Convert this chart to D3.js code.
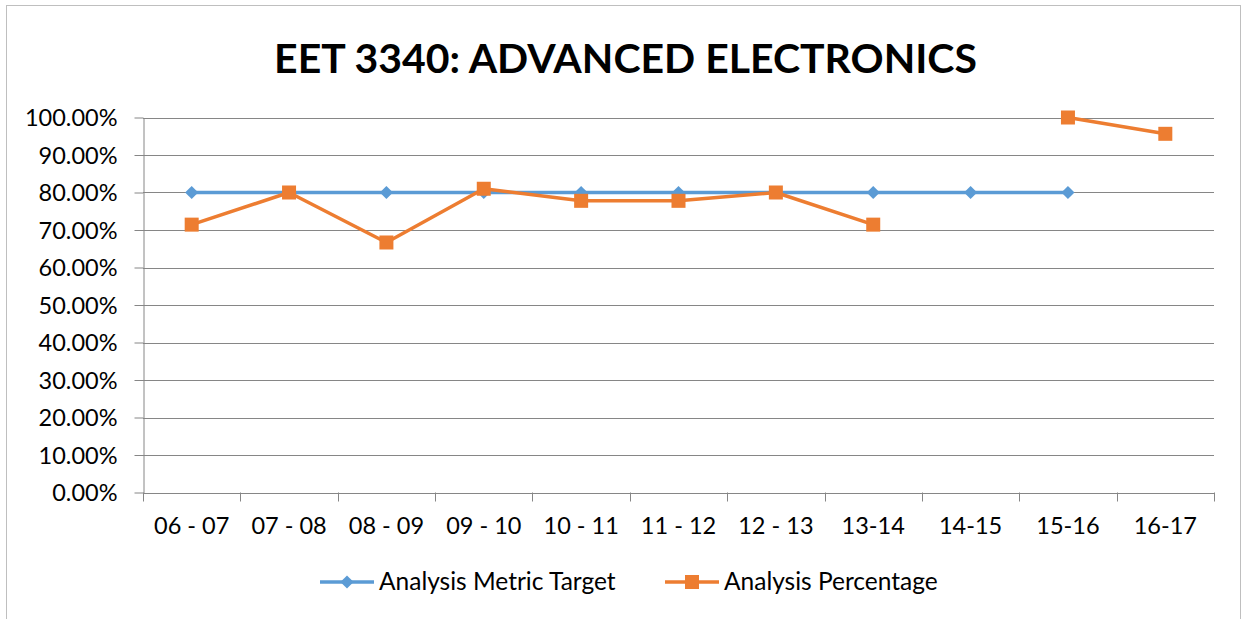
<!DOCTYPE html>
<html><head><meta charset="utf-8">
<script src="https://cdn.jsdelivr.net/npm/d3@7"></script>
<style>body{margin:0;background:#fff}svg{display:block}text{font-family:Lato,"Open Sans",sans-serif;fill:#000}</style>
</head><body><svg id="c" width="1244" height="619"></svg>
<script>
const title = "EET 3340: ADVANCED ELECTRONICS";
const categories = ["06 - 07","07 - 08","08 - 09","09 - 10","10 - 11","11 - 12","12 - 13","13-14","14-15","15-16","16-17"];
const targetValues = [0.80,0.80,0.80,0.80,0.80,0.80,0.80,0.80,0.80,0.80,null];
const percentageValues = [0.7143,0.80,0.6667,0.8100,0.7778,0.7778,0.80,0.7143,null,1.00,0.9565];
const yTicks = [0,0.1,0.2,0.3,0.4,0.5,0.6,0.7,0.8,0.9,1.0];
const seriesNames = ["Analysis Metric Target","Analysis Percentage"];

const svg = d3.select("#c");
svg.append("rect").attr("x",6.5).attr("y",5.5).attr("width",1234).attr("height",620).attr("fill","#fff").attr("stroke","#BFBFBF").attr("stroke-width",1);

const L=143, R=1214, T=117.5, B=492.5;
const x = d3.scaleBand().domain(categories).range([L,R]);
const y = d3.scaleLinear().domain([0,1]).range([B,T]);

// gridlines
svg.append("g").selectAll("line").data(yTicks.filter(d=>d>0)).join("line")
  .attr("x1",L).attr("x2",R).attr("y1",d=>Math.round(y(d))+0.5).attr("y2",d=>Math.round(y(d))+0.5)
  .attr("stroke","#868686").attr("stroke-width",1);

const LABEL_FS = 23.5;
// y axis
const ya = svg.append("g").attr("transform",`translate(${L+0.5},0)`)
  .call(d3.axisLeft(y).tickValues(yTicks).tickFormat(d3.format(".2%")).tickSizeInner(9).tickSizeOuter(0).tickPadding(17));
ya.select(".domain").attr("stroke","#868686");
ya.selectAll(".tick line").attr("stroke","#868686");
ya.selectAll("text").attr("font-size",LABEL_FS).attr("font-family","Lato").attr("fill","#000").attr("dy","0.36em");

// x axis
const xa = svg.append("g").attr("transform",`translate(0,${B+0.5})`)
  .call(d3.axisBottom(x).tickSize(0).tickPadding(24));
xa.select(".domain").attr("stroke","#868686");
xa.selectAll("text").attr("font-size",LABEL_FS).attr("font-family","Lato").attr("fill","#000");
// category boundary ticks
const bounds = categories.map(c=>x(c)).concat([R]);
svg.append("g").selectAll("line").data(bounds).join("line")
  .attr("x1",d=>Math.round(d)+0.5).attr("x2",d=>Math.round(d)+0.5).attr("y1",B).attr("y2",B+9)
  .attr("stroke","#868686");

const cx = c => x(c)+x.bandwidth()/2;
const blue="#5B9BD5", orange="#ED7D31";

function drawSeries(vals,color,width){
  const line = d3.line().defined(d=>d[1]!==null).x(d=>cx(d[0])).y(d=>y(d[1]));
  svg.append("path").datum(categories.map((c,i)=>[c,vals[i]]))
    .attr("d",line).attr("fill","none").attr("stroke",color).attr("stroke-width",width).attr("stroke-linejoin","round");
}
drawSeries(targetValues,blue,3.5);
svg.append("g").selectAll("path").data(categories.map((c,i)=>[c,targetValues[i]]).filter(d=>d[1]!==null)).join("path")
  .attr("d",d3.symbol(d3.symbolDiamond2,110)()).attr("transform",d=>`translate(${cx(d[0])},${y(d[1])})`).attr("fill",blue);
drawSeries(percentageValues,orange,3.5);
svg.append("g").selectAll("rect").data(categories.map((c,i)=>[c,percentageValues[i]]).filter(d=>d[1]!==null)).join("rect")
  .attr("x",d=>cx(d[0])-7).attr("y",d=>y(d[1])-7).attr("width",14).attr("height",14).attr("fill",orange);

// title
const tt = svg.append("text").attr("x",625.5).attr("y",73).attr("text-anchor","middle")
  .attr("font-size",40).attr("font-weight","bold").text(title);
const tw = tt.node().getComputedTextLength();
tt.attr("font-size",40*703/tw);

// legend
const lg = svg.append("g");
const leg = [{name:seriesNames[0],c:blue,x1:320,x2:374,tx:379,m:"d"},{name:seriesNames[1],c:orange,x1:665,x2:719,tx:724,m:"s"}];
leg.forEach(l=>{
  lg.append("line").attr("x1",l.x1).attr("x2",l.x2).attr("y1",582).attr("y2",582).attr("stroke",l.c).attr("stroke-width",3.5);
  const m=(l.x1+l.x2)/2;
  if(l.m==="d") lg.append("path").attr("d",d3.symbol(d3.symbolDiamond2,110)()).attr("transform",`translate(${m},582)`).attr("fill",l.c);
  else lg.append("rect").attr("x",m-7).attr("y",575).attr("width",14).attr("height",14).attr("fill",l.c);
  lg.append("text").attr("x",l.tx).attr("y",590).attr("font-size",24.5).text(l.name);
});
</script></body></html>
